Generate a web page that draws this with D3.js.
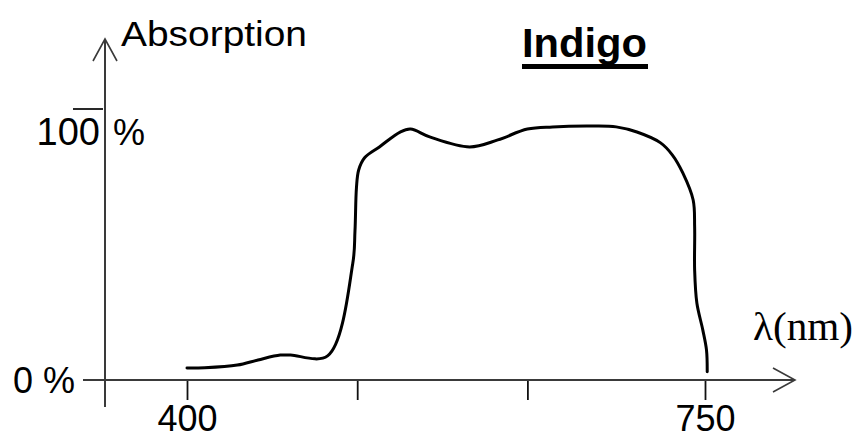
<!DOCTYPE html>
<html>
<head>
<meta charset="utf-8">
<script src="https://cdn.jsdelivr.net/npm/d3@7/dist/d3.min.js"></script>
<style>
  body { margin: 0; background: #fff; }
  text { font-family: "Liberation Sans", Arial, sans-serif; fill: #000; }
</style>
</head>
<body>
<div id="wrapper"></div>
<script>
// data
const wavelengths = [400, 412, 434, 448, 463, 470, 495, 512, 513.5, 514.5, 516, 520, 530, 544, 551, 564, 591, 610, 630, 647, 674, 690, 704, 720, 728, 735, 742, 743, 743, 744.5, 748.5, 751, 751.5]
const absorption = [4.4, 4.5, 5.5, 7.4, 9.2, 9.2, 8.9, 43, 55, 71, 77.5, 82, 86, 91.5, 92.6, 89.7, 86, 88.6, 92.6, 93.4, 93.7, 93.4, 91.5, 87.5, 83, 76.4, 66.4, 56.5, 40.6, 28.4, 18.5, 11.1, 3]
const xTicks = [400, 515, 630, 750]
const xTickLabels = ["400", "", "", "750"]
const yTicks = [100]
const yTickLabels = ["100"]

const dataset = wavelengths.map((w, i) => ({ w, a: absorption[i] }))

const dimensions = {
  width: 861,
  height: 439,
  originX: 105,
  originY: 380,
}

const wrapper = d3.select("#wrapper")
  .append("svg")
    .attr("width", dimensions.width)
    .attr("height", dimensions.height)

// scales
const xScale = d3.scaleLinear()
  .domain([400, 750])
  .range([187, 705])

const yScale = d3.scaleLinear()
  .domain([0, 100])
  .range([dimensions.originY, 109])

// x ticks and labels
const xAxis = d3.axisBottom(xScale)
  .tickValues(xTicks)
  .tickFormat((d, i) => xTickLabels[i])
  .tickSize(20)
  .tickPadding(5)

const xAxisGroup = wrapper.append("g")
  .attr("transform", `translate(0, ${dimensions.originY})`)
  .call(xAxis)
xAxisGroup.select(".domain").remove()
xAxisGroup.selectAll(".tick line")
  .attr("stroke", "#111")
  .attr("stroke-width", 1.8)
xAxisGroup.selectAll(".tick text")
  .style("font-size", "36px")
  .style("font-family", "'Liberation Sans', Arial, sans-serif")
  .attr("fill", "#000")

// axis lines with open arrows
const axisColor = "#3a3a3a"
wrapper.append("line")
  .attr("x1", 83).attr("x2", 795)
  .attr("y1", dimensions.originY).attr("y2", dimensions.originY)
  .attr("stroke", axisColor).attr("stroke-width", 2)
wrapper.append("path")
  .attr("d", `M773,${dimensions.originY - 12} L795,${dimensions.originY} L773,${dimensions.originY + 12}`)
  .attr("fill", "none").attr("stroke", axisColor).attr("stroke-width", 1.6)

wrapper.append("line")
  .attr("x1", dimensions.originX).attr("x2", dimensions.originX)
  .attr("y1", 407).attr("y2", 39)
  .attr("stroke", axisColor).attr("stroke-width", 2)
wrapper.append("path")
  .attr("d", `M${dimensions.originX - 12},61 L${dimensions.originX},39 L${dimensions.originX + 12},61`)
  .attr("fill", "none").attr("stroke", axisColor).attr("stroke-width", 1.6)

// y tick (overline) and labels
yTicks.forEach((t, i) => {
  wrapper.append("line")
    .attr("x1", 73).attr("x2", 103)
    .attr("y1", yScale(t)).attr("y2", yScale(t))
    .attr("stroke", "#111").attr("stroke-width", 1.8)
  wrapper.append("text")
    .attr("x", 100).attr("y", yScale(t) + 36)
    .attr("text-anchor", "end")
    .style("font-size", "38px")
    .text(yTickLabels[i])
  wrapper.append("text")
    .attr("x", 113).attr("y", yScale(t) + 36)
    .style("font-size", "36px")
    .text("%")
})

wrapper.append("text")
  .attr("x", 13).attr("y", yScale(0) + 13)
  .style("font-size", "36px")
  .text("0 %")

// axis titles
wrapper.append("text")
  .attr("x", 121).attr("y", 46)
  .attr("textLength", 186)
  .attr("lengthAdjust", "spacingAndGlyphs")
  .style("font-size", "35px")
  .text("Absorption")

wrapper.append("text")
  .attr("x", 753).attr("y", 340)
  .attr("textLength", 100)
  .attr("lengthAdjust", "spacingAndGlyphs")
  .style("font-family", "'Liberation Serif', 'Times New Roman', serif")
  .style("font-size", "40px")
  .text("λ(nm)")

// chart title
wrapper.append("text")
  .attr("x", 522).attr("y", 57)
  .attr("textLength", 125)
  .attr("lengthAdjust", "spacingAndGlyphs")
  .style("font-size", "40px")
  .style("font-weight", "bold")
  .text("Indigo")
wrapper.append("line")
  .attr("x1", 522).attr("x2", 648)
  .attr("y1", 66.5).attr("y2", 66.5)
  .attr("stroke", "#000").attr("stroke-width", 5)

// absorption curve
const lineGenerator = d3.line()
  .x(d => xScale(d.w))
  .y(d => yScale(d.a))
  .curve(d3.curveCatmullRom.alpha(0.5))

wrapper.append("path")
  .attr("d", lineGenerator(dataset))
  .attr("fill", "none")
  .attr("stroke", "#000")
  .attr("stroke-width", 3)
  .attr("stroke-linejoin", "round")
  .attr("stroke-linecap", "round")
</script>
</body>
</html>
